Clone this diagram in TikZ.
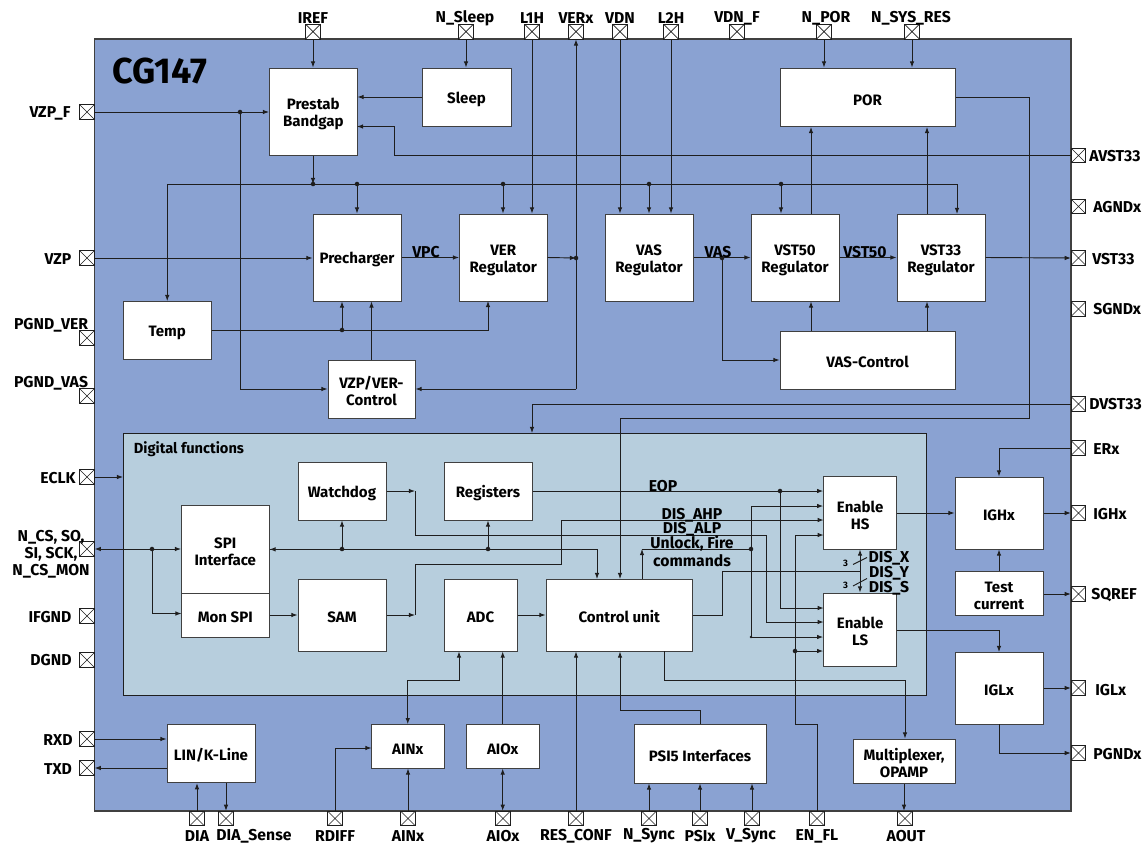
\documentclass[tikz,border=0pt]{standalone}
\usepackage{fontspec}
\setmainfont{Fira Sans}
\usetikzlibrary{arrows.meta,fit,calc}
\definecolor{chip}{HTML}{8AA2D2}
\definecolor{digi}{HTML}{B7CEDD}
\definecolor{ink}{HTML}{1E1E1E}
\newcommand\txt{\bfseries\fontsize{11.3}{12.7}\selectfont}
\newcommand\pintxt{\bfseries\fontsize{11.8}{12.7}\selectfont}
\tikzset{
  w/.style={draw=ink,line width=.7pt},
  a/.style={w,-{Latex[length=4.6pt,width=3.4pt]}},
  aa/.style={w,{Latex[length=4.6pt,width=3.4pt]}-{Latex[length=4.6pt,width=3.4pt]}},
  box/.style={draw=ink!85,line width=.75pt,fill=white,inner sep=0pt,align=center,font=\txt},
  lab/.style={inner sep=0pt,align=center,font=\pintxt},
  pad/.style={draw=ink,line width=.6pt,fill=white,inner sep=0pt,minimum size=10.9pt,
    path picture={\draw[line width=.5pt] (path picture bounding box.north west)--(path picture bounding box.south east)
      (path picture bounding box.north east)--(path picture bounding box.south west);}},
  dot/.style={circle,fill=ink,inner sep=0pt,minimum size=3.4pt},
}
\newcommand\padT[4]{\node[pad] (p#1) at (#2,31.7) {}; \node[lab] (l#1) at (#3,18) {#4};}
\newcommand\padB[4]{\node[pad] (p#1) at (#2,818.5) {}; \node[lab] (l#1) at (#3,836) {#4};}
\newcommand\padL[5]{\node[pad] (p#1) at (87,#2) {}; \node[lab] (l#1) at (#3,#4) {#5};}
\newcommand\padR[5]{\node[pad] (p#1) at (1078.5,#2) {}; \node[lab,anchor=west] (l#1) at (#3,#4) {#5};}
\newcommand\blk[6]{\pgfmathsetmacro\bw{(#4-#2)*.75}\pgfmathsetmacro\bh{(#5-#3)*.75}%
  \node[box,minimum width=\bw pt,minimum height=\bh pt] (#1) at ({(#2+#4)/2},{(#3+#5)/2}) {\rule{0pt}{12pt}#6};}
\begin{document}
\begin{tikzpicture}[x=.75pt,y=-.75pt]
\useasboundingbox (0,0) rectangle (1147,846);
\node[draw=ink!85,line width=.8pt,fill=chip,inner sep=0pt,fit={(94.5,39)(1071,811)}] (chipbox) {};
\node[draw=ink,line width=.6pt,fill=digi,inner sep=0pt,fit={(123.5,433)(926,695)}] (dig) {};
\node[inner sep=0pt,font=\bfseries\fontsize{27}{29}\selectfont] (title) at (160,71) {CG147};
\node[lab,font=\bfseries\fontsize{11}{12}\selectfont] (digtitle) at (189,449.5) {Digital functions};

% pads
\padT{IREF}{313}{313}{IREF}
\padT{Sleep}{466}{465}{N\_Sleep}
\padT{LA}{532}{532}{L1H}
\padT{VERx}{576}{576}{VERx}
\padT{VDN}{620}{620}{VDN}
\padT{LB}{671}{671}{L2H}
\padT{VDNF}{737}{737}{VDN\_F}
\padT{POR}{824}{826}{N\_POR}
\padT{SYS}{912}{911}{N\_SYS\_RES}
\padL{VZPF}{112}{50}{113}{VZP\_F}
\padL{VZP}{258}{58}{259}{VZP}
\padL{PV}{338}{51}{325}{PGND\_VER}
\padL{PA}{396}{51}{383}{PGND\_VAS}
\padL{ECLK}{477}{58}{478}{ECLK}
\padL{SPI}{549}{51}{554}{N\_CS, SO,\\SI, SCK,\\N\_CS\_MON}
\padL{IF}{616}{50}{617}{IFGND}
\padL{DG}{660}{51}{660}{DGND}
\padL{RXD}{739}{58}{740}{RXD}
\padL{TXD}{768}{58}{769}{TXD}
\padR{AV}{155.5}{1089}{156}{AVST33}
\padR{AG}{206.5}{1093}{207}{AGNDx}
\padR{VS}{258}{1092}{259}{VST33}
\padR{SG}{309}{1093}{309}{SGNDx}
\padR{DV}{404}{1089}{404}{DVST33}
\padR{ER}{448}{1093}{449}{ERx}
\padR{IH}{513}{1093}{514}{IGHx}
\padR{SQ}{594}{1091}{595}{SQREF}
\padR{IL}{688}{1095}{690}{IGLx}
\padR{PG}{753}{1093}{754}{PGNDx}
\padB{DIA}{197}{197}{DIA}
\padB{DS}{226}{254}{DIA\_Sense}
\padB{RD}{335}{335}{RDIFF}
\padB{AI}{408}{408}{AINx}
\padB{AO}{503}{503}{AIOx}
\padB{RC}{576}{576}{RES\_CONF}
\padB{NS}{649}{649}{N\_Sync}
\padB{PX}{700}{700}{PSIx}
\padB{VSy}{752}{751}{V\_Sync}
\padB{EN}{817}{817}{EN\_FL}
\padB{AOUT}{905}{906}{AOUT}

% blocks
\blk{prestab}{269.5}{68}{357}{155}{Prestab\\Bandgap}
\blk{sleep}{422}{68}{511}{126}{Sleep}
\blk{por}{780}{68}{955}{126.5}{POR}
\blk{prech}{313}{214}{401}{301}{Precharger}
\blk{ver}{459.5}{214}{547}{301}{VER\\Regulator}
\blk{vas}{605}{214}{693}{301}{VAS\\Regulator}
\blk{vst50}{751}{214}{839}{301}{VST50\\Regulator}
\blk{vst33}{897}{214}{985}{301}{VST33\\Regulator}
\blk{vasc}{780}{331}{955}{389}{VAS-Control}
\blk{temp}{123.5}{301.5}{211}{359.5}{Temp}
\blk{vzpc}{328}{360}{415}{418}{VZP/VER-\\Control}
\blk{wd}{298}{462}{386}{520}{Watchdog}
\blk{reg}{444}{462}{532}{520}{Registers}
\blk{spi}{181.5}{505.7}{269}{593}{SPI\\Interface}
\blk{mon}{181.5}{593}{269}{637}{Mon SPI}
\blk{sam}{298}{579}{386}{651}{SAM}
\blk{adc}{444}{579}{517}{651}{ADC}
\blk{ctrl}{546}{579}{692.5}{651}{Control unit}
\blk{hs}{823.7}{476.7}{896.7}{549}{Enable\\HS}
\blk{ls}{823.7}{593}{896.7}{666}{Enable\\LS}
\blk{ighx}{955}{477}{1043}{549}{IGHx}
\blk{test}{955}{571}{1043}{615}{Test\\current}
\blk{iglx}{955}{652}{1043}{724}{IGLx}
\blk{mux}{853}{739}{955}{783}{Multiplexer,\\OPAMP}
\blk{psi}{634}{724}{766}{783}{PSI5 Interfaces}
\blk{lin}{167}{724.7}{255}{782.7}{LIN/K-Line}
\blk{ainx}{371.5}{724.7}{444}{768}{AINx}
\blk{aiox}{466.4}{724.7}{539}{768}{AIOx}

% dots and helper points
\node[dot] (dVZ) at (240,112) {};
\node[dot] (dBG) at (313,184) {};
\node[dot] (dR1) at (357,184) {};
\node[dot] (dR2) at (503,184) {};
\node[dot] (dR3) at (649,184) {};
\node[dot] (dR4) at (781,184) {};
\node[dot] (dVER) at (576,258) {};
\node[dot] (dVAS) at (722,258) {};
\node[dot] (dT) at (342,330) {};
\node[dot] (dS) at (152,549) {};
\node[dot] (dW) at (342,549) {};
\node[dot] (dRg) at (488,549) {};
\node[dot] (dE) at (780,491) {};
\node[dot] (dU) at (751,549) {};
\node[dot,minimum size=2pt] (dU4) at (751,637) {};
\node[dot] (dF) at (795,651) {};
\coordinate (c1) at (394,155.5);
\coordinate (c2) at (357,126.5);
\coordinate (cR) at (957,214);
\coordinate (cA) at (811,360);
\coordinate (cB) at (927,360);
\coordinate (cC) at (1029,418);
\coordinate (cCt) at (620,579);
\coordinate (cDT) at (532,433);
\coordinate (cVB) at (488,301);
\coordinate (cM) at (181.5,613.5);
\coordinate (cCt2) at (597,579);
\coordinate (cW1) at (415,491);
\coordinate (cW2) at (766,535);
\coordinate (cW3) at (823.7,622);
\coordinate (cE) at (823.7,608);
\coordinate (cS1) at (415,615);
\coordinate (cS2) at (561,564);
\coordinate (cS3) at (823.7,520);
\coordinate (cU1) at (642,579);
\coordinate (cU2) at (642,549);
\coordinate (cU3) at (751,506);
\coordinate (cD0) at (692.5,615);
\coordinate (cD1) at (722,571.5);
\coordinate (cD2) at (860,571.5);
\coordinate (cF1) at (795,724);
\coordinate (cF2) at (823.7,535);
\coordinate (cG1) at (664,651);
\coordinate (cG2) at (905,680);
\coordinate (cH1) at (620,710);
\coordinate (cI) at (459,680);
\coordinate (cV) at (576,389);
\coordinate (cRD) at (371.5,748);
\coordinate (cHL) at (896.7,630);
\coordinate (cHS) at (896.7,513);
\coordinate (cT2) at (999,652);
\coordinate (cT3) at (999,724);
\coordinate (s1a) at (853,564.5);
\coordinate (s1b) at (867,557.5);
\coordinate (s2a) at (853,586);
\coordinate (s2b) at (867,578.5);

% connectors: upper part
\draw[a] (pIREF) -- (pIREF |- prestab.north);
\draw[a] (pSleep) -- (pSleep |- sleep.north);
\draw[a] (sleep.west) -- (prestab.east |- sleep.west);
\draw[a] (pAV.west) -- (c1) |- (c2);
\draw[a] (pVZPF.east) -- (pVZPF.east -| prestab.west);
\draw[a] (dVZ.center) |- (vzpc.west);
\draw[a] (dBG |- prestab.south) -- (dBG.center);
\draw[a] (dBG.center) -| (temp.north);
\draw[a] (dBG.center) -| (cR);
\draw[a] (dR1.center) -- (dR1 |- prech.north);
\draw[a] (dR2.center) -- (dR2 |- ver.north);
\draw[a] (dR3.center) -- (dR3 |- vas.north);
\draw[a] (dR4.center) -- (dR4 |- vst50.north);
\draw[a] (pVZP.east) -- (pVZP.east -| prech.west);
\draw[a] (prech.east) -- (ver.west);
\draw[a] (pLA) -- (pLA |- ver.north);
\draw[a] (ver.east) -- (dVER.center);
\draw[a] (cV) -- (pVERx.south);
\draw[a] (cV) -- (cV -| vzpc.east);
\draw[a] (pVDN) -- (pVDN |- vas.north);
\draw[a] (pLB) -- (pLB |- vas.north);
\draw[a] (vas.east) -- (vst50.west);
\draw[a] (dVAS.center) |- (vasc.west);
\draw[a] (vst50.east) -- (vst33.west);
\draw[a] (vst33.east) -- (pVS.west);
\draw[a] (cA |- vst50.north) -- (cA |- por.south);
\draw[a] (cB |- vst33.north) -- (cB |- por.south);
\draw[a] (cA |- vasc.north) -- (cA |- vst50.south);
\draw[a] (cB |- vasc.north) -- (cB |- vst33.south);
\draw[a] (pPOR) -- (pPOR |- por.north);
\draw[a] (pSYS) -- (pSYS |- por.north);
\draw[a] (por.east) -| (cC) -| (cCt);
\draw[a] (pDV.west) -| (cDT);
\draw[a] (temp.east) -| (cVB);
\draw[a] (dT.center) -- (dT |- prech.south);
\draw[a] (vzpc.north) -- (vzpc.north |- prech.south);

% digital part
\draw[a] (pECLK.east) -- (pECLK.east -| dig.west);
\draw[aa] (pSPI.east) -- (pSPI.east -| spi.west);
\draw[a] (dS.center) |- (cM);
\draw[a] (cCt2 |- spi.east) -- (spi.east);
\draw[a] (spi.east) -| (cCt2);
\draw[a] (dW.center) -- (dW |- wd.south);
\draw[a] (dRg.center) -- (dRg |- reg.south);
\draw[a] (wd.east) -- (cW1);
\draw[a] (cW1) |- (cW2) |- (cW3);
\draw[a] (reg.east) -- (reg.east -| hs.west);
\draw[a] (dE.center) |- (cE);
\draw[a] (mon.east |- sam.west) -- (sam.west);
\draw[a] (sam.east) -- (cS1);
\draw[a] (cS1) |- (cS2) |- (cS3);
\draw[a] (adc.east) -- (ctrl.west);
\draw[a] (cU1) -- (cU2);
\draw[w] (cU2) -- (dU.center);
\draw[w] (cU3) -- (dU4.center);
\draw[a] (cU3) -- (cU3 -| hs.west);
\draw[a] (dU4.center) -- (dU4.center -| ls.west);
\draw[w] (cD0) -| (cD1) -- (cD2);
\draw[a] (cD2) -- (cD2 |- hs.south);
\draw[a] (cD2) -- (cD2 |- ls.north);
\draw[w] (s1a) -- (s1b);
\draw[w] (s2a) -- (s2b);
\draw[a] (pEN.north) |- (cF1) |- (cF2);
\draw[a] (dF.center) -- (dF.center -| ls.west);
\draw[a] (cG1) |- (cG2) -- (cG2 |- mux.north);
\draw[a] (psi.north) |- (cH1) -- (cH1 |- ctrl.south);
\draw[a] (pRC.north) -- (pRC |- ctrl.south);
\draw[a] (aiox.north) -- (aiox.north |- adc.south);
\draw[aa] (aiox.south) -- (aiox.south |- pAO.north);
\draw[aa] (ainx.north) |- (cI) -- (cI |- adc.south);
\draw[a] (pAI.north) -- (pAI.north |- ainx.south);
\draw[a] (pRD.north) |- (cRD);
\draw[a] (pRXD.east) -- (pRXD.east -| lin.west);
\draw[a] (pTXD.east -| lin.west) -- (pTXD.east);
\draw[a] (pDIA.north) -- (pDIA.north |- lin.south);
\draw[a] (pDS.north |- lin.south) -- (pDS.north);
\draw[a] (pNS.north) -- (pNS.north |- psi.south);
\draw[a] (pPX.north) -- (pPX.north |- psi.south);
\draw[a] (pVSy.north) -- (pVSy.north |- psi.south);
\draw[a] (mux.south) -- (mux.south |- pAOUT.north);
\draw[a] (cHS) -- (cHS -| ighx.west);
\draw[a] (ighx.east |- pIH) -- (pIH.west);
\draw[a] (test.north) -- (ighx.south);
\draw[a] (test.east |- pSQ) -- (pSQ.west);
\draw[a] (pER.west) -| (ighx.north);
\draw[a] (cHL) -| (cT2);
\draw[a] (iglx.east |- pIL) -- (pIL.west);
\draw[a] (cT3) |- (pPG.west);

% signal labels
\node[lab] (tVPC) at (426,252) {VPC};
\node[lab] (tVAS) at (718,252) {VAS};
\node[lab] (tV50) at (865,252) {VST50};
\node[lab] (tEOP) at (663,486) {EOP};
\node[lab] (tAHP) at (692,515) {DIS\_AHP};
\node[lab] (tALP) at (692,529) {DIS\_ALP};
\node[lab] (tUnl) at (692,544) {Unlock, Fire};
\node[lab] (tCmd) at (692,561) {commands};
\node[lab] (tX) at (889,558) {DIS\_X};
\node[lab] (tY) at (889,573) {DIS\_Y};
\node[lab] (tS) at (889,588) {DIS\_S};
\node[lab,font=\bfseries\fontsize{7}{8}\selectfont] (t3a) at (845.5,563.5) {3};
\node[lab,font=\bfseries\fontsize{7}{8}\selectfont] (t3b) at (845.5,585.5) {3};
\end{tikzpicture}
\end{document}
